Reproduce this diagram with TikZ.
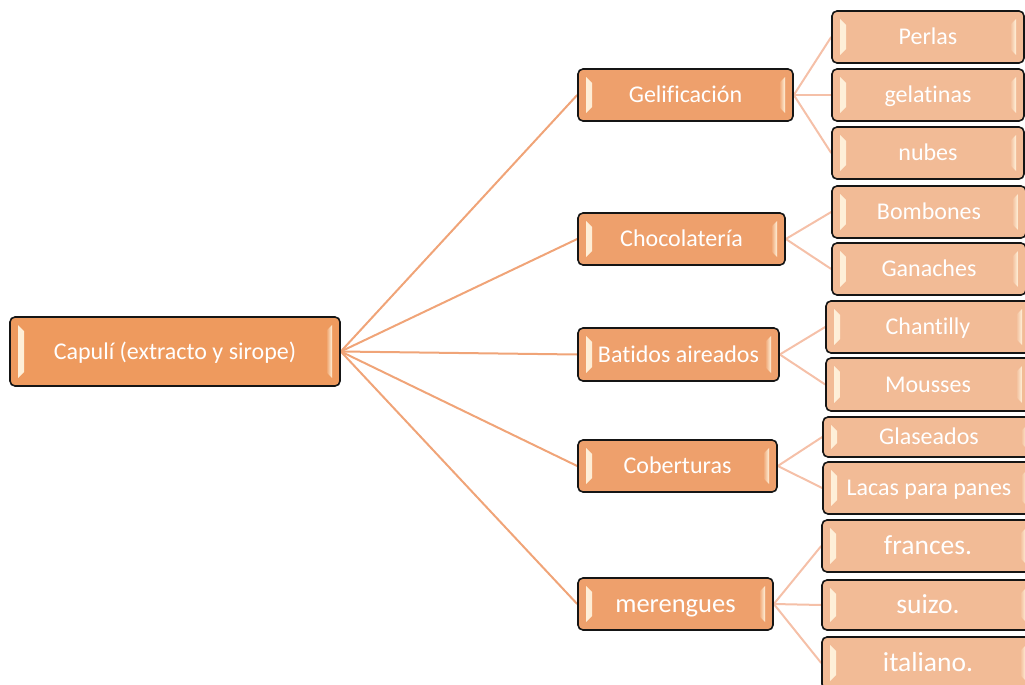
\documentclass[tikz,border=0pt]{standalone}
\usepackage{fontspec}
\setmainfont[Ligatures=NoCommon]{Carlito}
\usetikzlibrary{backgrounds}
\definecolor{rootfill}{HTML}{EE9A5E}
\definecolor{midfill}{HTML}{EEA06C}
\definecolor{leaffill}{HTML}{F2BB96}
\definecolor{hlc}{HTML}{FFF2DC}
\definecolor{edgeA}{HTML}{F0A478}
\definecolor{edgeB}{HTML}{F5C0A8}
\definecolor{bordc}{HTML}{151515}
\tikzset{
  box/.style={draw=bordc, line width=1.6pt, rounded corners=5pt, fill=#1, text=white,
    inner sep=0pt, font=\fontsize{24}{27}\selectfont, text height=15.4pt, text depth=0pt,
    path picture={
      \shade[sharp corners, left color=hlc, right color=#1]
        ([shift={(8pt,-8pt)}]path picture bounding box.north west) --
        ([shift={(14pt,-14pt)}]path picture bounding box.north west) --
        ([shift={(14pt,14pt)}]path picture bounding box.south west) --
        ([shift={(8pt,8pt)}]path picture bounding box.south west) -- cycle;
      \shade[sharp corners, right color=hlc, left color=#1]
        ([shift={(-8pt,-8pt)}]path picture bounding box.north east) --
        ([shift={(-14pt,-14pt)}]path picture bounding box.north east) --
        ([shift={(-14pt,14pt)}]path picture bounding box.south east) --
        ([shift={(-8pt,8pt)}]path picture bounding box.south east) -- cycle;
    }},
  rootbox/.style={box=rootfill, minimum width=330pt, minimum height=69pt},
  midbox/.style={box=midfill, minimum height=52pt},
  leafbox/.style={box=leaffill, minimum height=52pt},
  bigtext/.style={font=\fontsize{27.5}{30}\selectfont, text height=17.7pt},
  linkA/.style={draw=edgeA, line width=2pt},
  linkB/.style={draw=edgeB, line width=2pt}
}
\begin{document}
\begin{tikzpicture}[x=1pt,y=-1pt]
\useasboundingbox (0,0) rectangle (1025,685);
\clip (0,0) rectangle (1025,685);
% root
\node[rootbox] (root) at (175,351.5) {Capulí (extracto y sirope)};
% middle
\node[midbox, minimum width=215pt] (gel) at (685.5,95) {Gelificación};
\node[midbox, minimum width=207pt] (cho) at (681.5,239) {Chocolatería};
\node[midbox, minimum width=201pt, minimum height=53pt] (bat) at (678.5,354.5) {Batidos aireados};
\node[midbox, minimum width=195pt, font=\fontsize{26.5}{29}\selectfont, text height=17pt] (mer) at (675.5,604) {merengues};
\node[midbox, minimum width=199pt] (cob) at (677.5,466) {Coberturas};
% leaves
\node[leafbox, minimum width=192pt] (perlas) at (928,37) {Perlas};
\node[leafbox, minimum width=192pt] (gelat) at (928,95) {gelatinas};
\node[leafbox, minimum width=192pt] (nubes) at (928,153) {nubes};
\node[leafbox, minimum width=194pt] (bomb) at (929,212) {Bombones};
\node[leafbox, minimum width=194pt] (gan) at (929,269) {Ganaches};
\node[leafbox, minimum width=204pt] (chan) at (928,327) {Chantilly};
\node[leafbox, minimum width=204pt, minimum height=53pt] (mous) at (928,384.5) {Mousses};
\node[leafbox, minimum width=212pt, minimum height=40pt] (glas) at (929,437) {Glaseados};
\node[leafbox, minimum width=212pt] (lacas) at (929,488) {Lacas para panes};
\node[leafbox, minimum width=212pt, bigtext] (fran) at (928,546) {frances.};
\node[leafbox, minimum width=212pt, minimum height=50pt, bigtext] (sui) at (928,605) {suizo.};
\node[leafbox, minimum width=212pt, bigtext] (ita) at (928,663) {italiano.};
\begin{scope}[on background layer]
\draw[linkA] (root.east) -- (gel.west);
\draw[linkA] (root.east) -- (cho.west);
\draw[linkA] (root.east) -- (bat.west);
\draw[linkA] (root.east) -- (cob.west);
\draw[linkA] (root.east) -- (mer.west);
\draw[linkB] (gel.east) -- (perlas.west);
\draw[linkB] (gel.east) -- (gelat.west);
\draw[linkB] (gel.east) -- (nubes.west);
\draw[linkB] (cho.east) -- (bomb.west);
\draw[linkB] (cho.east) -- (gan.west);
\draw[linkB] (bat.east) -- (chan.west);
\draw[linkB] (bat.east) -- (mous.west);
\draw[linkB] (cob.east) -- (glas.west);
\draw[linkB] (cob.east) -- (lacas.west);
\draw[linkB] (mer.east) -- (fran.west);
\draw[linkB] (mer.east) -- (sui.west);
\draw[linkB] (mer.east) -- (ita.west);
\end{scope}
\end{tikzpicture}
\end{document}
